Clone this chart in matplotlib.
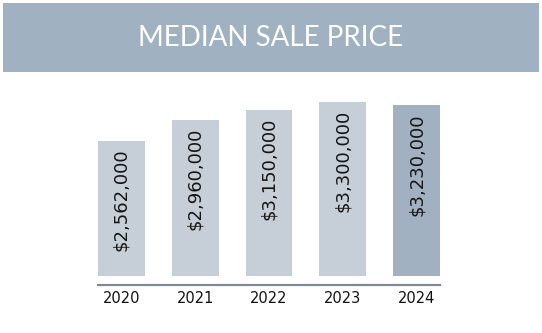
import matplotlib
matplotlib.use('Agg')
import matplotlib.pyplot as plt
from matplotlib.patches import Rectangle

# data
years = ['2020', '2021', '2022', '2023', '2024']
prices = [2562000, 2960000, 3150000, 3300000, 3230000]
labels = ['$2,562,000', '$2,960,000', '$3,150,000', '$3,300,000', '$3,230,000']

bar_col = '#c6ced8'
last_col = '#a1b1c1'
W, H = 542, 333

fig = plt.figure(figsize=(W / 100, H / 100), dpi=100)
fig.patch.set_facecolor('white')

# header band
fig.patches.append(Rectangle((3 / W, 1 - 72 / H), 536 / W, 69 / H,
                             transform=fig.transFigure, facecolor='#a0b2c2',
                             edgecolor='none', zorder=0))
fig.text(0.5, 1 - 38 / H, 'MEDIAN SALE PRICE', ha='center', va='center',
         color='white', fontsize=20, family='Lato')

# bars, value 0 at pixel row 276
bw = 0.637
ax = fig.add_axes([98 / W, (H - 276) / H, 342 / W, 186 / H])
x = list(range(len(years)))
cols = [bar_col] * (len(years) - 1) + [last_col]
ax.bar(x, prices, width=bw, color=cols)
ax.set_xlim(-bw / 2, len(years) - 1 + bw / 2)
ppm = 52.8 / 1e6  # pixels per dollar
ax.set_ylim(0, 186 / ppm)

for xi, p, lab in zip(x, prices, labels):
    ax.annotate(lab, (xi, p), xytext=(0, -8), textcoords='offset pixels',
                rotation=90, ha='center', va='top', fontsize=13,
                color='#141414')

# baseline under bars
ax.plot([-bw / 2, len(years) - 1 + bw / 2], [-9 / ppm, -9 / ppm],
        color='#7f8a94', lw=1.6, clip_on=False)

ax.set_xticks(x)
ax.set_xticklabels(years, fontsize=10.5, color='#111111', fontweight='medium')
ax.tick_params(axis='x', length=0, pad=11)
ax.set_yticks([])
for s in ax.spines.values():
    s.set_visible(False)
ax.patch.set_visible(False)

fig.savefig('out.png', dpi=100)
